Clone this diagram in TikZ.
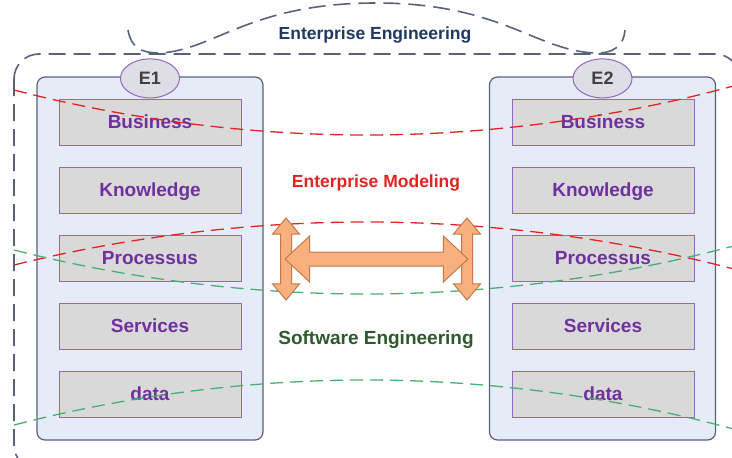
\documentclass[tikz,border=0pt]{standalone}
\usepackage{fontspec}
\setmainfont{Liberation Sans}
\usepackage{xcolor}
\usepackage{tikz}
\usetikzlibrary{positioning,shapes.geometric,shapes.arrows}
\definecolor{navy}{HTML}{1F3864}
\definecolor{slate}{HTML}{56627E}
\definecolor{paleblue}{HTML}{E6ECF7}
\definecolor{layergray}{HTML}{D9D9D9}
\definecolor{layerline}{HTML}{9466C0}
\definecolor{layertext}{HTML}{7030A0}
\definecolor{tagfill}{HTML}{DEDEE6}
\definecolor{modred}{HTML}{E52222}
\definecolor{swgreen}{HTML}{48B070}
\definecolor{darkgreen}{HTML}{2E5A2E}
\definecolor{sand}{HTML}{F8B07C}
\definecolor{sandline}{HTML}{C4784C}
\tikzset{%
  system/.style={draw=slate,fill=paleblue,line width=1.2pt,rounded corners=8pt,minimum width=226pt,minimum height=363pt,inner sep=0pt},
  layer/.style={draw=layerline,fill=layergray,line width=1pt,minimum width=182pt,minimum height=46pt,inner sep=0pt,text height=13.6pt,text depth=0pt,text=layertext,font=\fontsize{19}{22}\selectfont\bfseries},
  tag/.style={ellipse,draw=layerline,fill=tagfill,line width=1pt,minimum width=59pt,minimum height=39pt,inner sep=0pt,text height=13pt,text depth=0pt,text=black!75,font=\fontsize{18}{22}\selectfont\bfseries},
  title/.style={inner sep=0pt,text height=12.5pt,text depth=0pt},
  border/.style={draw=slate,line width=1.6pt,dash pattern=on 17pt off 8pt},
  modline/.style={draw=modred,line width=1.3pt,dash pattern=on 13pt off 7pt},
  swline/.style={draw=swgreen,line width=1.3pt,dash pattern=on 13pt off 7pt},
  bigarrow/.style={double arrow,draw=sandline,fill=sand,line width=1pt,inner xsep=0pt},
  updown/.style={bigarrow,rotate=90,inner ysep=5pt,minimum height=82pt,minimum width=26pt,double arrow head extend=8pt,double arrow tip angle=80},
}

\begin{document}
\begin{tikzpicture}[x=1pt,y=-1pt]
      \useasboundingbox (0,0) rectangle (732,458);
      \clip (0,0) rectangle (732,458);

      % enterprise engineering frame
      \draw[border,rounded corners=25pt] (14,54) rectangle (740,470);
      \draw[border] (128,30) .. controls (131,47) and (140,53) .. (160,53) .. controls (215,50) and (250,3) .. (376,3) .. controls (500,3) and (535,50) .. (594,53) .. controls (614,54) and (624,45) .. (625,30);
      \node[title,text=navy,font=\fontsize{17.5}{20}\selectfont\bfseries] (engTitle) at (375,33) {Enterprise Engineering};

      % the two systems
      \node[system] (sysOne) at (150,258.5) {};
      \node[system] (sysTwo) at (602.5,258.5) {};
      \node[tag] (tagOne) at ([yshift=-2pt]sysOne.north) {E1};
      \node[tag] (tagTwo) at ([yshift=-2pt]sysTwo.north) {E2};

      \node[layer] (businessOne) at (150,122) {Business};
      \node[layer,below=21pt of businessOne] (knowledgeOne) {Knowledge};
      \node[layer,below=21pt of knowledgeOne] (processusOne) {Processus};
      \node[layer,below=21pt of processusOne] (servicesOne) {Services};
      \node[layer,below=21pt of servicesOne] (dataOne) {data};

      \node[layer] (businessTwo) at (603,122) {Business};
      \node[layer,below=21pt of businessTwo] (knowledgeTwo) {Knowledge};
      \node[layer,below=21pt of knowledgeTwo] (processusTwo) {Processus};
      \node[layer,below=21pt of processusTwo] (servicesTwo) {Services};
      \node[layer,below=21pt of servicesTwo] (dataTwo) {data};

      % modeling and software bands
      \draw[modline] (14,90) parabola bend (366,135) (732,86.4);
      \draw[modline] (14,265) parabola bend (366,222) (732,268.5);
      \draw[swline] (14,250) parabola bend (366,294) (732,246.4);
      \draw[swline] (14,425) parabola bend (366,380) (732,428.6);
      \node[title,text=modred,font=\fontsize{17.5}{20}\selectfont\bfseries] (modTitle) at (376,181) {Enterprise Modeling};
      \node[title,text=darkgreen,font=\fontsize{19}{22}\selectfont\bfseries] (swTitle) at (376,338) {Software Engineering};

      % exchange arrows
      \node[updown] (upDownOne) at (286,259) {};
      \node[updown] (upDownTwo) at (467,259) {};
      \path (upDownOne) -- node[bigarrow,inner ysep=6.5pt,minimum height=183pt,minimum width=45pt,double arrow head extend=16pt,double arrow tip angle=86] (exchange) {} (upDownTwo);
    \end{tikzpicture}
\end{document}
